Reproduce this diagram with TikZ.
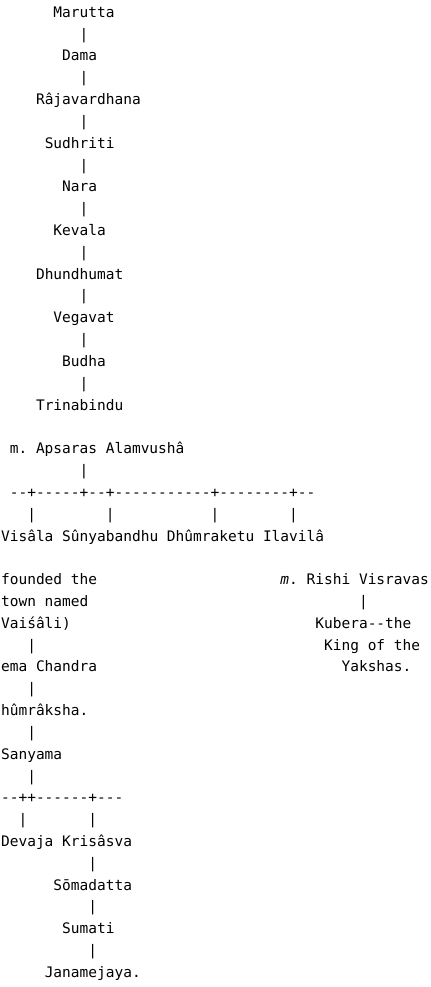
\documentclass[tikz,border=0pt]{standalone}
\usepackage{fontspec}
\setmonofont{DejaVu Sans Mono}
\usepackage{tikz}

\begin{document}
\begin{tikzpicture}[x=8.73pt,y=-21.82pt,
  ln/.style={anchor=base west,inner sep=0pt,outer sep=0pt,font=\ttfamily\fontsize{14.5}{17.4}\selectfont},
  bar/.style={ln}]
  \useasboundingbox (-0.126,0.207) rectangle (49.130,45.440);
  \node[ln] (marutta) at (6,1) {Marutta};
  \node[bar] (b2) at (9,2) {|};
  \node[ln] (dama) at (7,3) {Dama};
  \node[bar] (b4) at (9,4) {|};
  \node[ln] (rajav) at (4,5) {Râjavardhana};
  \node[bar] (b6) at (9,6) {|};
  \node[ln] (sudhriti) at (5,7) {Sudhriti};
  \node[bar] (b8) at (9,8) {|};
  \node[ln] (nara) at (7,9) {Nara};
  \node[bar] (b10) at (9,10) {|};
  \node[ln] (kevala) at (6,11) {Kevala};
  \node[bar] (b12) at (9,12) {|};
  \node[ln] (dhundhumat) at (4,13) {Dhundhumat};
  \node[bar] (b14) at (9,14) {|};
  \node[ln] (vegavat) at (6,15) {Vegavat};
  \node[bar] (b16) at (9,16) {|};
  \node[ln] (budha) at (7,17) {Budha};
  \node[bar] (b18) at (9,18) {|};
  \node[ln] (trinabindu) at (4,19) {Trinabindu};
  \node[ln] (apsaras) at (1,21) {m. Apsaras Alamvushâ};
  \node[bar] (b22) at (9,22) {|};
  \node[ln] (rail1) at (1,23) {--+-----+--+-----------+--------+--};
  \node[bar] (b24a) at (3,24) {|};
  \node[bar] (b24b) at (12,24) {|};
  \node[bar] (b24c) at (24,24) {|};
  \node[bar] (b24d) at (33,24) {|};
  \node[ln] (visala) at (0,25) {Visâla};
  \node[ln] (sunya) at (7,25) {Sûnyabandhu};
  \node[ln] (dhumra) at (19,25) {Dhûmraketu};
  \node[ln] (ilavila) at (30,25) {Ilavilâ};
  \node[ln] (founded) at (0,27) {founded the};
  \node[ln] (visravas) at (32,27) {\textit{m}. Rishi Visravas};
  \node[ln] (town) at (0,28) {town named};
  \node[bar] (b28) at (41,28) {|};
  \node[ln] (vaisali) at (0,29) {Vaiśâli)};
  \node[ln] (kubera) at (36,29) {Kubera--the};
  \node[bar] (b30) at (3,30) {|};
  \node[ln] (king) at (37,30) {King of the};
  \node[ln] (hema) at (0,31) {ema Chandra};
  \node[ln] (yakshas) at (39,31) {Yakshas.};
  \node[bar] (b32) at (3,32) {|};
  \node[ln] (dhumraksha) at (0,33) {hûmrâksha.};
  \node[bar] (b34) at (3,34) {|};
  \node[ln] (sanyama) at (0,35) {Sanyama};
  \node[bar] (b36) at (3,36) {|};
  \node[ln] (rail2) at (0,37) {--++------+---};
  \node[bar] (b38a) at (2,38) {|};
  \node[bar] (b38b) at (10,38) {|};
  \node[ln] (devaja) at (0,39) {Devaja};
  \node[ln] (krisasva) at (7,39) {Krisâsva};
  \node[bar] (b40) at (10,40) {|};
  \node[ln] (somadatta) at (6,41) {Sōmadatta};
  \node[bar] (b42) at (10,42) {|};
  \node[ln] (sumati) at (7,43) {Sumati};
  \node[bar] (b44) at (10,44) {|};
  \node[ln] (janamejaya) at (5,45) {Janamejaya.};
\end{tikzpicture}
\end{document}
